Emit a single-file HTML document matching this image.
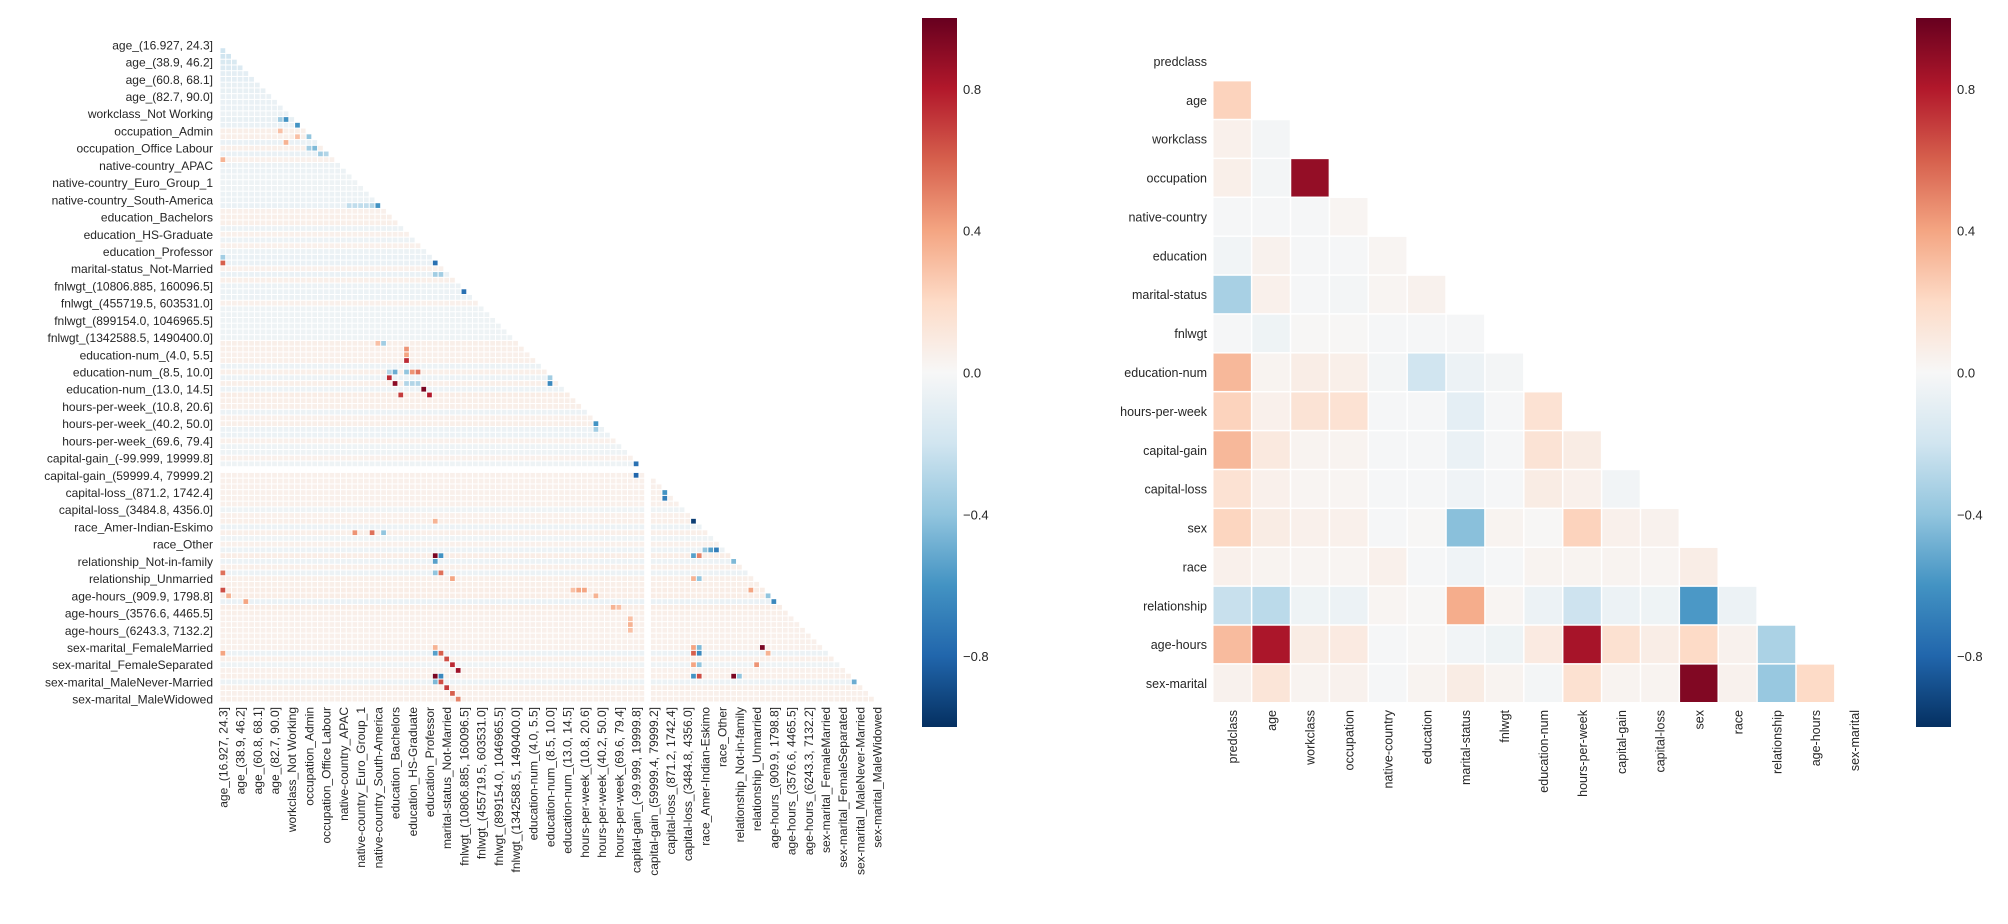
<!DOCTYPE html>
<html><head><meta charset="utf-8"><title>Correlation heatmaps</title>
<style>
html,body{margin:0;padding:0;background:#fff;}
svg{display:block;font-family:"Liberation Sans",Arial,sans-serif;}
text{fill:#262626;}
</style></head>
<body>
<svg id="chart" width="2008" height="924" viewBox="0 0 2008 924" xmlns="http://www.w3.org/2000/svg">
<defs>
<linearGradient id="cbgrad" x1="0" y1="1" x2="0" y2="0">
<stop offset="0" stop-color="#053061"/><stop offset="0.1" stop-color="#2166ac"/><stop offset="0.2" stop-color="#4393c3"/><stop offset="0.3" stop-color="#92c5de"/><stop offset="0.4" stop-color="#d1e5f0"/><stop offset="0.5" stop-color="#f7f7f7"/><stop offset="0.6" stop-color="#fddbc7"/><stop offset="0.7" stop-color="#f4a582"/><stop offset="0.8" stop-color="#d6604d"/><stop offset="0.9" stop-color="#b2182b"/><stop offset="1" stop-color="#67001f"/>
</linearGradient>
</defs>
<g id="left"></g>
<g id="right"></g>
</svg>
<script>
// ---------- data ----------
const leftLabels = ["age_(16.927, 24.3]","age_(38.9, 46.2]","age_(60.8, 68.1]","age_(82.7, 90.0]","workclass_Not Working","occupation_Admin","occupation_Office Labour","native-country_APAC","native-country_Euro_Group_1","native-country_South-America","education_Bachelors","education_HS-Graduate","education_Professor","marital-status_Not-Married","fnlwgt_(10806.885, 160096.5]","fnlwgt_(455719.5, 603531.0]","fnlwgt_(899154.0, 1046965.5]","fnlwgt_(1342588.5, 1490400.0]","education-num_(4.0, 5.5]","education-num_(8.5, 10.0]","education-num_(13.0, 14.5]","hours-per-week_(10.8, 20.6]","hours-per-week_(40.2, 50.0]","hours-per-week_(69.6, 79.4]","capital-gain_(-99.999, 19999.8]","capital-gain_(59999.4, 79999.2]","capital-loss_(871.2, 1742.4]","capital-loss_(3484.8, 4356.0]","race_Amer-Indian-Eskimo","race_Other","relationship_Not-in-family","relationship_Unmarried","age-hours_(909.9, 1798.8]","age-hours_(3576.6, 4465.5]","age-hours_(6243.3, 7132.2]","sex-marital_FemaleMarried","sex-marital_FemaleSeparated","sex-marital_MaleNever-Married","sex-marital_MaleWidowed"];
const leftN = 115;
const leftLabelStep = 3;
const leftRowTint = [0,-0.2,-0.2,-0.16,-0.14,-0.1,-0.1,-0.08,-0.08,-0.07,-0.07,-0.07,-0.06,-0.08,-0.07,0.06,0.06,-0.07,0.06,-0.07,0.05,-0.06,-0.06,-0.05,-0.05,-0.05,-0.06,-0.06,-0.07,0.05,0.06,0.06,-0.06,0.05,-0.06,0.05,-0.06,-0.07,-0.07,0.05,-0.07,0.06,-0.06,-0.06,-0.06,0.05,-0.05,-0.05,-0.05,-0.05,-0.05,-0.05,0.06,0.06,0.05,0.06,-0.06,0.06,-0.06,0.06,-0.06,0.07,0.06,0.06,-0.06,0.05,0.06,-0.06,-0.06,0.05,-0.05,-0.05,0.05,-0.05,0,0.05,0.05,0.05,0.05,0.05,0.05,-0.05,0.05,0.06,-0.06,0.06,-0.05,0.05,-0.06,0.07,-0.06,0.06,-0.06,0.06,0.06,0.07,0.07,-0.07,0.07,0.06,0.05,0.05,0.05,0.05,0.05,0.05,-0.06,0.06,-0.05,0.05,0.06,-0.06,0.06,0.05,0.06];
const leftNaN = [74];
const leftHighlights = [
[37,0,-0.35],[38,0,0.6],[38,37,-0.75],[40,37,-0.35],[40,38,-0.35],[43,42,-0.75],
[13,10,-0.35],[13,11,-0.6],[14,13,-0.6],[15,10,0.3],[16,13,0.3],[16,15,-0.4],[17,11,0.35],[18,15,-0.35],[18,16,-0.45],[19,17,-0.35],[19,18,-0.3],[20,0,0.35],
[28,22,-0.25],[28,23,-0.25],[28,24,-0.25],[28,25,-0.25],[28,26,-0.3],[28,27,-0.6],
[52,27,0.3],[52,28,-0.35],[53,32,0.45],[54,32,0.4],[55,32,0.75],
[57,29,-0.3],[57,30,-0.5],[57,32,-0.4],[57,33,0.45],[57,34,0.55],
[58,29,0.75],[59,30,0.9],[59,32,-0.3],[59,33,-0.3],[59,34,-0.3],[60,35,0.95],[61,31,0.7],[61,36,0.8],
[58,57,-0.35],[59,57,-0.65],[66,65,-0.6],[67,65,-0.35],[73,72,-0.75],[75,72,-0.8],[78,77,-0.6],[79,77,-0.7],
[83,37,0.35],[83,82,-0.95],[85,23,0.45],[85,26,0.55],[85,28,-0.4],
[88,84,-0.4],[88,85,-0.55],[88,86,-0.7],
[89,37,0.95],[89,38,-0.6],[89,82,-0.55],[89,83,0.5],[90,37,-0.55],[90,89,-0.45],
[92,0,0.55],[92,37,-0.4],[92,38,0.55],[93,40,0.4],[93,82,0.35],[93,83,-0.4],
[95,0,0.65],[95,61,0.3],[95,62,0.4],[95,63,0.4],[95,92,0.4],[96,1,0.35],[96,65,0.35],[96,95,-0.4],[97,4,0.4],[97,96,-0.65],
[98,68,0.35],[98,69,0.3],[100,71,0.3],[101,71,0.35],[102,71,0.3],
[105,37,0.35],[105,82,0.4],[105,83,-0.45],[105,94,0.95],
[106,0,0.4],[106,37,-0.55],[106,38,0.6],[106,82,0.6],[106,83,-0.65],[106,95,0.35],
[107,39,0.65],[108,40,0.75],[108,82,0.4],[108,83,-0.4],[108,93,0.45],[109,41,0.85],
[110,37,0.95],[110,38,-0.65],[110,82,-0.6],[110,83,0.65],[110,89,0.95],[110,90,-0.4],
[111,37,-0.45],[111,38,0.65],[111,110,-0.5],[112,39,0.7],[113,40,0.6],[114,41,0.5]
];
const rightVars = ["predclass","age","workclass","occupation","native-country","education","marital-status","fnlwgt","education-num","hours-per-week","capital-gain","capital-loss","sex","race","relationship","age-hours","sex-marital"];
const rightRows = [
[],
[0.23],
[0.05,-0.02],
[0.06,-0.02,0.88],
[-0.01,-0.01,-0.01,0.02],
[-0.03,0.04,-0.01,-0.01,0.02],
[-0.33,0.05,-0.01,-0.02,0.02,0.04],
[-0.01,-0.05,0.01,0.01,-0.01,-0.01,-0.01],
[0.33,0.03,0.07,0.06,-0.02,-0.2,-0.06,-0.02],
[0.23,0.05,0.14,0.15,-0.01,-0.01,-0.1,-0.01,0.15],
[0.33,0.1,0.03,0.03,-0.01,-0.01,-0.07,-0.01,0.14,0.08],
[0.15,0.05,0.02,0.02,-0.01,-0.01,-0.04,-0.01,0.08,0.05,-0.03],
[0.22,0.08,0.05,0.05,-0.01,0.01,-0.42,0.03,0.01,0.23,0.05,0.04],
[0.05,0.03,0.02,0.02,0.05,-0.01,-0.04,-0.01,0.03,0.03,0.03,0.02,0.07],
[-0.23,-0.27,-0.05,-0.06,0.02,0.01,0.37,0.02,-0.06,-0.21,-0.06,-0.05,-0.58,-0.06],
[0.32,0.82,0.08,0.09,-0.01,0.01,-0.03,-0.05,0.09,0.83,0.16,0.07,0.2,0.04,-0.32],
[0.04,0.13,0.03,0.04,-0.01,0.03,0.08,0.03,-0.02,0.16,0.03,0.03,0.93,0.04,-0.38,0.2]
];
const cbTicks = [0.8,0.4,0.0,-0.4,-0.8];

// ---------- helpers ----------
const NS = "http://www.w3.org/2000/svg";
const stops = [[5,48,97],[33,102,172],[67,147,195],[146,197,222],[209,229,240],[247,247,247],[253,219,199],[244,165,130],[214,96,77],[178,24,43],[103,0,31]];
function color(v){
  let t = (Math.max(-1,Math.min(1,v))+1)/2*10;
  let i = Math.min(9,Math.floor(t)), f = t-i;
  const a=stops[i], b=stops[i+1];
  return "rgb("+a.map((x,k)=>Math.round(x+(b[k]-x)*f)).join(",")+")";
}
function mk(tag, parent, attrs){
  const e = document.createElementNS(NS, tag);
  for (const k in attrs) e.setAttribute(k, attrs[k]);
  parent.appendChild(e);
  return e;
}
const L = {x0:220, y0:42, size:660};
const lp = L.size/leftN;
const lx = i => L.x0 + i*lp;
const ly = i => L.y0 + i*lp;
const R = {x0:1213, y0:42, size:661};
const rp = R.size/rightVars.length;
const rx = i => R.x0 + i*rp;
const ry = i => R.y0 + i*rp;
const CB = {top:18, bottom:727, w:35};
const cby = v => CB.top + (1-v)/2*(CB.bottom-CB.top);

// ---------- left heatmap ----------
const gl = document.getElementById("left");
const hl = {};
leftHighlights.forEach(h => { hl[h[0]+"_"+h[1]] = h[2]; });
const cellsL = mk("g", gl, {});


for (let r=1; r<leftN; r++){
  if (leftNaN.includes(r)) continue;
  for (let c=0; c<r; c++){
    if (leftNaN.includes(c)) continue;
    const key = r+"_"+c;
    const v = (key in hl) ? hl[key] : leftRowTint[r];
    const el = mk("rect", cellsL, {x:lx(c)+0.5, y:ly(r)+0.5, width:lp-1, height:lp-1, fill:color(v)});
    
    
  }
}
leftLabels.forEach((lab, k) => {
  const i = k*leftLabelStep;
  const ty = mk("text", gl, {x:213, y:ly(i)+lp/2+4.5, "text-anchor":"end", "font-size":12});
  ty.textContent = lab;
  
  
  const cx = lx(i)+lp/2+4.5;
  const tx = mk("text", gl, {x:0, y:0, "text-anchor":"end", "font-size":12, transform:"translate("+cx+",707) rotate(-90)"});
  tx.textContent = lab;
  
  
});
function colorbar(parent, x, name){
  const g = mk("g", parent, {});
  
  
  mk("rect", g, {x:x, y:CB.top, width:CB.w, height:CB.bottom-CB.top, fill:"url(#cbgrad)"});
  cbTicks.forEach(t => {
    const tt = mk("text", g, {x:x+CB.w+6, y:cby(t)+5, "font-size":13});
    tt.textContent = (t<0 ? "\u2212" : "") + Math.abs(t).toFixed(1);
    
    
  });
}
colorbar(gl, 922, "left-colorbar");

// ---------- right heatmap ----------
const gr = document.getElementById("right");
rightRows.forEach((row, r) => {
  row.forEach((v, c) => {
    const el = mk("rect", gr, {x:rx(c)+0.5, y:ry(r)+0.5, width:rp-1.5, height:rp-1.5, fill:color(v)});
    
    
  });
});
rightVars.forEach((lab, i) => {
  const ty = mk("text", gr, {x:1207, y:ry(i)+rp/2+4.5, "text-anchor":"end", "font-size":12.5});
  ty.textContent = lab;
  
  
  const cx = rx(i)+rp/2+4.5;
  const tx = mk("text", gr, {x:0, y:0, "text-anchor":"end", "font-size":12.5, transform:"translate("+cx+",710) rotate(-90)"});
  tx.textContent = lab;
  
  
});
colorbar(gr, 1916, "right-colorbar");
</script>
</body></html>
